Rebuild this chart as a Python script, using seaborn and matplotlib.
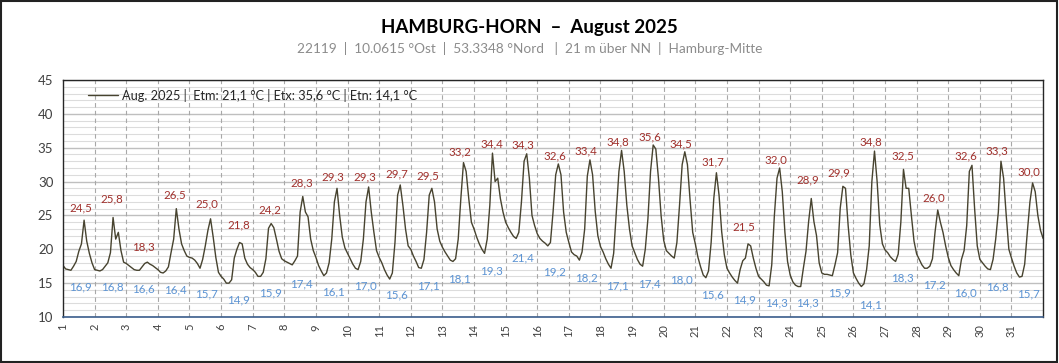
import numpy as np
import pandas as pd
import matplotlib
matplotlib.use("Agg")
import matplotlib.pyplot as plt
import seaborn as sns
from matplotlib.patches import Rectangle

# two-hourly readings (00,02,...,22 h) per day
day01 = [17.6, 17.1, 17.0, 16.9, 17.5, 18.2, 19.7, 20.8, 24.3, 21.2, 19.4, 18.0]
day02 = [17.0, 16.9, 16.8, 17.0, 17.5, 18.0, 19.5, 24.7, 21.5, 22.5, 19.8, 18.1]
day03 = [17.9, 17.6, 17.3, 17.0, 16.9, 16.9, 17.4, 17.9, 18.1, 17.8, 17.6, 17.3]
day04 = [17.0, 16.6, 16.5, 16.8, 17.4, 19.5, 21.5, 26.0, 23.0, 20.8, 19.8, 19.0]
day05 = [18.8, 18.7, 18.4, 17.9, 17.2, 18.5, 20.5, 22.8, 24.5, 21.8, 18.8, 16.6]
day06 = [16.0, 15.6, 15.0, 15.0, 15.5, 18.7, 20.0, 21.0, 20.8, 18.7, 17.8, 17.3]
day07 = [17.0, 16.6, 16.0, 16.0, 16.6, 18.6, 23.1, 23.8, 23.2, 21.5, 19.7, 18.6]
day08 = [18.3, 18.1, 17.9, 17.7, 18.3, 19.0, 25.5, 27.8, 25.5, 24.8, 21.5, 19.8]
day09 = [18.8, 17.6, 16.8, 16.1, 16.5, 18.0, 21.5, 27.0, 29.0, 25.0, 21.8, 20.2]
day10 = [19.4, 18.6, 17.8, 17.2, 17.0, 18.2, 21.5, 27.0, 29.2, 25.5, 22.5, 19.8]
day11 = [18.8, 18.0, 17.0, 16.2, 15.6, 16.5, 21.0, 28.0, 29.5, 26.5, 23.0, 20.5]
day12 = [20.0, 19.0, 18.2, 17.3, 17.2, 18.5, 22.5, 28.0, 29.0, 27.0, 23.0, 21.2]
day13 = [20.3, 19.6, 19.0, 18.4, 18.2, 18.6, 21.5, 27.5, 32.8, 31.5, 27.5, 24.0]
day14 = [23.0, 21.8, 20.8, 20.0, 19.4, 21.5, 26.5, 34.2, 30.0, 30.5, 27.5, 25.5]
day15 = [24.0, 23.2, 22.5, 21.9, 21.6, 22.5, 27.0, 33.0, 34.1, 30.5, 25.0, 23.5]
day16 = [22.3, 21.6, 21.2, 20.9, 20.5, 21.0, 25.5, 31.0, 32.6, 31.0, 25.5, 22.5]
day17 = [21.0, 19.6, 19.2, 19.0, 18.4, 19.6, 23.0, 30.8, 33.2, 31.0, 25.6, 22.0]
day18 = [20.4, 19.6, 18.6, 17.8, 17.2, 19.4, 25.5, 31.5, 34.6, 31.5, 26.5, 23.0]
day19 = [20.5, 19.5, 18.5, 17.8, 17.5, 20.0, 24.5, 31.5, 35.4, 34.8, 30.5, 25.0]
day20 = [21.3, 19.8, 19.4, 19.0, 18.7, 21.0, 26.5, 32.5, 34.4, 32.5, 27.3, 22.5]
day21 = [20.8, 18.8, 17.4, 16.2, 15.8, 16.8, 21.0, 27.5, 31.3, 28.0, 22.6, 19.2]
day22 = [17.2, 16.5, 15.9, 15.4, 15.0, 17.0, 18.3, 18.7, 20.8, 20.5, 18.7, 17.2]
day23 = [16.0, 15.6, 15.2, 14.7, 14.6, 17.7, 25.0, 30.5, 32.0, 28.5, 22.5, 18.2]
day24 = [16.2, 15.2, 14.7, 14.5, 14.5, 17.2, 19.7, 24.1, 27.5, 24.1, 22.0, 18.0]
day25 = [16.5, 16.3, 16.3, 16.2, 16.1, 17.7, 19.5, 26.1, 29.3, 29.0, 23.5, 19.2]
day26 = [16.5, 15.7, 15.0, 14.5, 14.9, 17.0, 20.5, 30.0, 34.5, 30.0, 23.6, 20.8]
day27 = [19.9, 19.5, 18.9, 18.5, 18.2, 19.3, 24.0, 31.8, 29.0, 29.0, 25.0, 21.2]
day28 = [19.3, 18.5, 17.7, 17.2, 17.2, 17.5, 18.6, 22.6, 25.8, 24.0, 22.5, 20.5]
day29 = [18.8, 17.6, 17.0, 16.5, 16.1, 18.5, 19.8, 23.5, 31.5, 32.4, 26.0, 20.5]
day30 = [18.5, 18.0, 17.5, 17.1, 17.0, 18.5, 21.5, 25.5, 33.0, 30.5, 25.0, 20.0]
day31 = [18.7, 17.5, 16.5, 15.9, 16.0, 17.8, 22.5, 27.0, 29.8, 28.5, 25.0, 22.8]
last_value = 21.6

days = list(range(1, 32))
tmax = [24.5, 25.8, 18.3, 26.5, 25.0, 21.8, 24.2, 28.3, 29.3, 29.3, 29.7, 29.5, 33.2, 34.4, 34.3, 32.6,
        33.4, 34.8, 35.6, 34.5, 31.7, 21.5, 32.0, 28.9, 29.9, 34.8, 32.5, 26.0, 32.6, 33.3, 30.0]
tmin = [16.9, 16.8, 16.6, 16.4, 15.7, 14.9, 15.9, 17.4, 16.1, 17.0, 15.6, 17.1, 18.1, 19.3, 21.4, 19.2,
        18.2, 17.1, 17.4, 18.0, 15.6, 14.9, 14.3, 14.3, 15.9, 14.1, 18.3, 17.2, 16.0, 16.8, 15.7]

title = "HAMBURG-HORN  \u2013  August 2025"
subtitle = "22119  |  10.0615 \u00b0Ost  |  53.3348 \u00b0Nord   |  21 m \u00fcber NN  |  Hamburg-Mitte"
legend_text = "Aug. 2025 |  Etm: 21,1 \u00b0C | Etx: 35,6 \u00b0C | Etn: 14,1 \u00b0C"

# ---------------------------------------------------------------- data frame
rows = [day01, day02, day03, day04, day05, day06, day07, day08, day09, day10, day11,
        day12, day13, day14, day15, day16, day17, day18, day19, day20, day21, day22,
        day23, day24, day25, day26, day27, day28, day29, day30, day31]
vals = [v for r in rows for v in r] + [last_value]
t = np.arange(len(vals)) * 2 / 24 + 1
df = pd.DataFrame({"t": t, "temp": vals})

# ---------------------------------------------------------------- plot
sns.set_style("white")
plt.rcParams["font.family"] = ["Lato", "DejaVu Sans"]

fig = plt.figure(figsize=(10.59, 3.63), dpi=100)
ax = fig.add_axes([0.0595, 0.1267, 0.9255, 0.653])

for y in range(10, 46):
    major = y % 5 == 0
    ax.axhline(y, color="#bfbfbf" if major else "#dcdcdc", lw=1.0 if major else 0.8, zorder=0)
for d in days[1:]:
    ax.axvline(d, color="#a8a8a8", lw=0.8, ls=(0, (4, 3)), zorder=0)

sns.lineplot(data=df, x="t", y="temp", ax=ax, color="#47432f", lw=1.0, label=legend_text)

for d, hi, lo in zip(days, tmax, tmin):
    ax.text(d + 0.55, hi * 0.945 + 3, f"{hi:.1f}".replace(".", ","), ha="center", va="center",
            fontsize=8.3, color="#a0302c")
    ax.text(d + 0.55, lo * 0.945 - 1.5, f"{lo:.1f}".replace(".", ","), ha="center", va="center",
            fontsize=8.3, color="#5b93d3")

ax.set_xlim(1, 32)
ax.set_ylim(10, 45)
ax.set_xticks(days)
ax.set_xticklabels([str(d) for d in days], rotation=90, fontsize=8, color="#404040")
ax.set_yticks(range(10, 46, 5))
ax.tick_params(axis="y", labelsize=9.5, colors="#404040", length=0, pad=7)
ax.tick_params(axis="x", length=3, pad=2, color="#3b5e8c")
ax.set_xlabel("")
ax.set_ylabel("")
for s in ["top", "right", "left"]:
    ax.spines[s].set_color("#262626")
    ax.spines[s].set_linewidth(1.0)
ax.spines["bottom"].set_color("#3b5e8c")
ax.spines["bottom"].set_linewidth(1.2)

leg = ax.legend(loc="upper left", bbox_to_anchor=(0.016, 1.0), frameon=False, fontsize=9.2,
                handlelength=2.4, handletextpad=0.3, borderaxespad=0.3)

fig.text(0.5, 0.923, title, ha="center", va="center", fontsize=13.5, fontweight="bold", color="black")
fig.text(0.5, 0.866, subtitle, ha="center", va="center", fontsize=9.8, color="#8c8c8c")
fig.patches.append(Rectangle((0.001, 0.002), 0.997, 0.995, transform=fig.transFigure,
                             fill=False, edgecolor="#222222", lw=1.5))

fig.savefig("out.png", dpi=100)
